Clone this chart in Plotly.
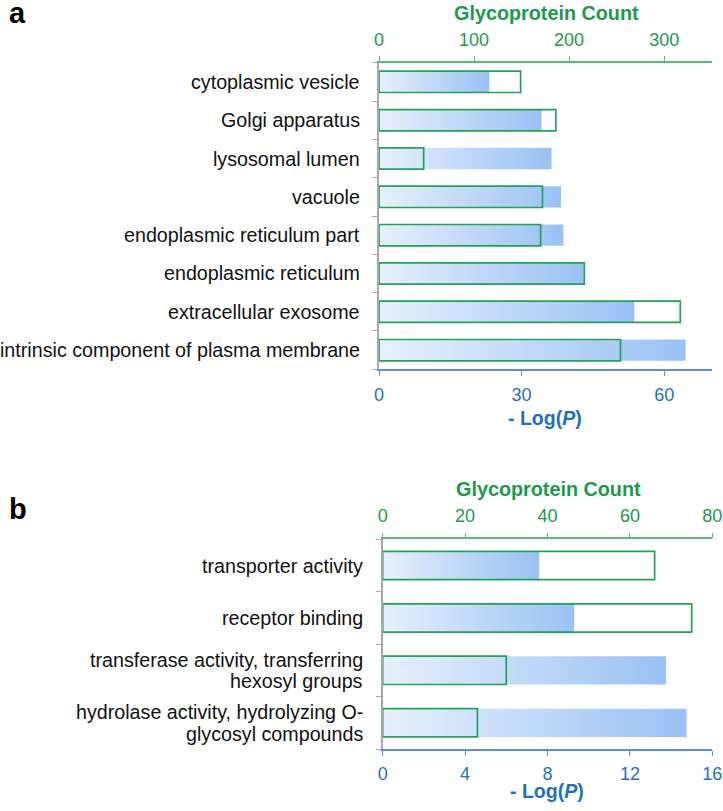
import plotly.graph_objects as go

# ---------------- data ----------------
cats_a = ["cytoplasmic vesicle", "Golgi apparatus", "lysosomal lumen", "vacuole",
          "endoplasmic reticulum part", "endoplasmic reticulum",
          "extracellular exosome", "intrinsic component of plasma membrane"]
logp_a = [23.2, 34.2, 36.3, 38.3, 38.8, 43.1, 53.7, 64.5]
count_a = [149, 186, 47, 172, 170, 216, 317, 254]

cats_b = ["transporter activity", "receptor binding",
          "transferase activity, transferring<br>hexosyl groups",
          "hydrolase activity, hydrolyzing O-<br>glycosyl compounds"]
logp_b = [7.6, 9.3, 13.75, 14.75]
count_b = [66, 75, 30, 23]

ticks_logp_a = [0, 30, 60]
ticks_count_a = [0, 100, 200, 300]
ticks_logp_b = [0, 4, 8, 12, 16]
ticks_count_b = [0, 20, 40, 60, 80]

# ---------------- style ----------------
W, H = 723, 811
FONT = "Liberation Sans, Arial, sans-serif"
GREEN_TXT = "#1b9a4b"
GREEN_LINE = "#55b880"
GREEN_BAR = "#22a254"
BLUE_TXT = "#1f70c1"
BLUE_LINE = "#5b8ed6"
GREY = "#a8a8a8"
GRAD = [[0, "#e7f0fc"], [1, "#99c1f4"]]


def px_x(x):
    return x / W


def px_y(y):
    return 1 - y / H


fig = go.Figure()


def add_panel(cats, logp, count, xa, xa2, ya, half):
    n = len(cats)
    for i, v in enumerate(logp):
        fig.add_trace(go.Scatter(
            x=[0, v, v, 0, 0], y=[i - half, i - half, i + half, i + half, i - half],
            mode="lines", line=dict(width=0), fill="toself",
            fillgradient=dict(type="horizontal", colorscale=GRAD),
            xaxis=xa, yaxis=ya, showlegend=False, hoverinfo="skip"))
    fig.add_trace(go.Bar(
        x=count, y=list(range(n)), orientation="h", width=2 * half,
        marker=dict(color="rgba(0,0,0,0)", line=dict(color=GREEN_BAR, width=1.7)),
        xaxis=xa2, yaxis=ya, showlegend=False, hoverinfo="skip"))


add_panel(cats_a, logp_a, count_a, "x", "x2", "y", 0.278)
add_panel(cats_b, logp_b, count_b, "x3", "x4", "y2", 0.27)

bottom_common = dict(showline=True, linecolor=BLUE_LINE, linewidth=1.5, ticks="outside",
                     ticklen=5, tickcolor=BLUE_LINE, tickwidth=1,
                     tickfont=dict(family=FONT, size=18, color=BLUE_TXT),
                     showgrid=False, zeroline=False, tickmode="array",
                     automargin=False, fixedrange=True, ticklabelstandoff=3)
top_common = dict(showline=True, linecolor=GREEN_LINE, linewidth=1.5, ticks="outside",
                  ticklen=5, tickcolor=GREEN_LINE, tickwidth=1,
                  tickfont=dict(family=FONT, size=18, color=GREEN_TXT),
                  showgrid=False, zeroline=False, tickmode="array", side="top",
                  automargin=False, fixedrange=True, ticklabelstandoff=3)
y_common = dict(showline=True, linecolor=GREY, linewidth=1.5, ticks="outside",
                ticklen=5, tickcolor=GREY, showticklabels=False, showgrid=False,
                zeroline=False, tickmode="array", automargin=False, fixedrange=True)

fig.update_layout(
    width=W, height=H, margin=dict(l=0, r=0, t=0, b=0),
    paper_bgcolor="white", plot_bgcolor="white", template="none",
    barmode="overlay", showlegend=False,
    xaxis=dict(domain=[px_x(379), px_x(711.7)], range=[0, 70], tickvals=ticks_logp_a,
               anchor="y", **bottom_common),
    xaxis2=dict(range=[0, 350], tickvals=ticks_count_a, overlaying="x", anchor="y",
                **top_common),
    yaxis=dict(domain=[px_y(369.3), px_y(62.7)], range=[len(cats_a) - 0.5, -0.5],
               tickvals=[k - 0.5 for k in range(len(cats_a) + 1)], anchor="x", **y_common),
    xaxis3=dict(domain=[px_x(382.7), px_x(712.3)], range=[0, 16], tickvals=ticks_logp_b,
                anchor="y2", **bottom_common),
    xaxis4=dict(range=[0, 80], tickvals=ticks_count_b, overlaying="x3", anchor="y2",
                **top_common),
    yaxis2=dict(domain=[px_y(749), px_y(539.3)], range=[len(cats_b) - 0.5, -0.5],
                tickvals=[k - 0.5 for k in range(len(cats_b) + 1)], anchor="x3", **y_common),
)

ann = []
LABEL_SIZE = 19.7
LINE_GAP = 21.7


def add_labels(cats, yref, xr):
    for i, c in enumerate(cats):
        lines = c.split("<br>")
        k = len(lines)
        for j, ln in enumerate(lines):
            ann.append(dict(text=ln, x=px_x(xr), xref="paper", xanchor="right",
                            y=i, yref=yref, yanchor="middle",
                            yshift=((k - 1) / 2 - j) * LINE_GAP,
                            showarrow=False,
                            font=dict(family=FONT, size=LABEL_SIZE, color="#111111")))


add_labels(cats_a, "y", 362)
add_labels(cats_b, "y2", 365)

title_font_g = dict(family=FONT, size=19.8, color=GREEN_TXT)
title_font_b = dict(family=FONT, size=19.5, color=BLUE_TXT)
ann += [
    dict(text="<b>Glycoprotein Count</b>", x=px_x(546), y=px_y(13), xref="paper", yref="paper",
         xanchor="center", yanchor="middle", showarrow=False, font=title_font_g),
    dict(text="<b>- Log(<i>P</i>)</b>", x=px_x(545), y=px_y(418), xref="paper", yref="paper",
         xanchor="center", yanchor="middle", showarrow=False, font=title_font_b),
    dict(text="<b>Glycoprotein Count</b>", x=px_x(548), y=px_y(489), xref="paper", yref="paper",
         xanchor="center", yanchor="middle", showarrow=False, font=title_font_g),
    dict(text="<b>- Log(<i>P</i>)</b>", x=px_x(547), y=px_y(791), xref="paper", yref="paper",
         xanchor="center", yanchor="middle", showarrow=False, font=title_font_b),
    dict(text="<b>a</b>", x=px_x(7), y=px_y(13), xref="paper", yref="paper",
         xanchor="left", yanchor="middle", showarrow=False,
         font=dict(family=FONT, size=29, color="black")),
    dict(text="<b>b</b>", x=px_x(7), y=px_y(509), xref="paper", yref="paper",
         xanchor="left", yanchor="middle", showarrow=False,
         font=dict(family=FONT, size=29, color="black")),
]
fig.update_layout(annotations=ann)

fig.write_html("out.html", config={"displayModeBar": False},
               post_script="document.body.style.margin='0';document.body.style.padding='0';")
